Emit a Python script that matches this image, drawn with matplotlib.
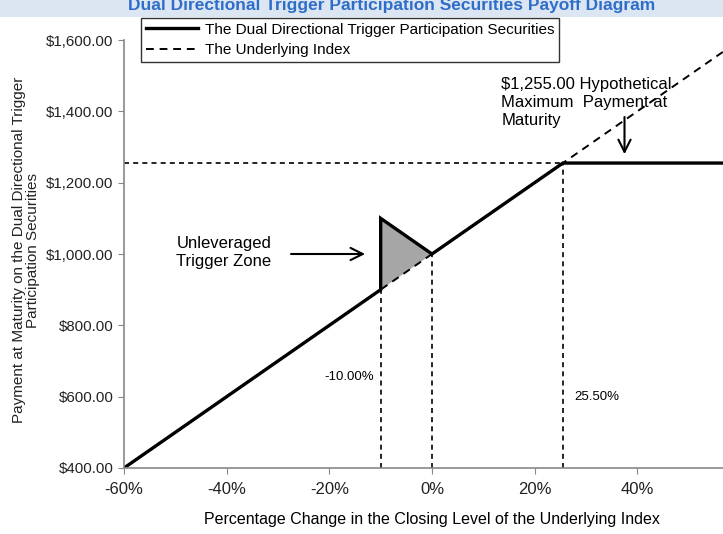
import matplotlib.pyplot as plt
from matplotlib.patches import Rectangle

plt.rcParams['font.family'] = ['Liberation Sans', 'DejaVu Sans']

# payoff of the securities (percent change -> payment)
pay_x = [-60, -10, -10, 0, 25.5, 60]
pay_y = [400, 900, 1100, 1000, 1255, 1255]

# underlying index
idx_x = [-60, 60]
idx_y = [400, 1600]

# trigger zone triangle
zone_x = [-10, -10, 0]
zone_y = [900, 1100, 1000]

cap_level = 1255
cap_pct = 25.5
trigger_pct = -10

x_ticks = [-60, -40, -20, 0, 20, 40, 60]
x_labels = ['-60%', '-40%', '-20%', '0%', '20%', '40%', '60%']
y_ticks = [400, 600, 800, 1000, 1200, 1400, 1600]
y_labels = ['$400.00', '$600.00', '$800.00', '$1,000.00', '$1,200.00', '$1,400.00', '$1,600.00']

fig = plt.figure(figsize=(7.23, 5.34), dpi=100)
fig.patches.append(Rectangle((0, 1 - 17 / 534), 1, 17 / 534, transform=fig.transFigure,
                             facecolor='#dce6f2', edgecolor='none'))
fig.text(392 / 723, 1 - 10 / 534, 'Dual Directional Trigger Participation Securities Payoff Diagram',
         ha='center', va='baseline', fontsize=12.5, fontweight='bold', color='#2f6ec8')

ax = fig.add_axes([124 / 723, 66 / 534, 616 / 723, 428 / 534])

ax.fill(zone_x, zone_y, color='#a6a6a6', lw=0)
ax.plot(idx_x, idx_y, ls=(0, (4, 3)), color='black', lw=1.4, label='The Underlying Index')
ax.plot(pay_x, pay_y, color='black', lw=2.4, solid_joinstyle='miter',
        label='The Dual Directional Trigger Participation Securities')

ax.plot([-60, cap_pct], [cap_level, cap_level], ls=(0, (3, 2.5)), color='black', lw=1.2)
ax.plot([trigger_pct, trigger_pct], [400, 900], ls=(0, (3, 2.5)), color='black', lw=1.2)
ax.plot([0, 0], [400, 1000], ls=(0, (3, 2.5)), color='black', lw=1.2)
ax.plot([cap_pct, cap_pct], [400, cap_level], ls=(0, (3, 2.5)), color='black', lw=1.2)

ax.set_xlim(-60, 60)
ax.set_ylim(400, 1600)
ax.set_xticks(x_ticks)
ax.set_xticklabels(x_labels, fontsize=12)
ax.set_yticks(y_ticks)
ax.set_yticklabels(y_labels, fontsize=10.8)
for s in ['top', 'right']:
    ax.spines[s].set_visible(False)
for s in ['left', 'bottom']:
    ax.spines[s].set_color('#878787')
    ax.spines[s].set_linewidth(1.2)
ax.tick_params(axis='both', direction='out', length=4, color='#878787', colors='#222222')
ax.tick_params(axis='x', pad=6)

ax.annotate('', xy=(-12.5, 1000), xytext=(-28, 1000),
            arrowprops=dict(arrowstyle='->', color='black', lw=1.5, mutation_scale=22))
ax.text(-49.8, 1005, 'Unleveraged\nTrigger Zone', fontsize=12, ha='left', va='center',
        linespacing=1.25)

ax.annotate('', xy=(37.5, 1272), xytext=(37.5, 1392),
            arrowprops=dict(arrowstyle='->', color='black', lw=1.5, mutation_scale=22))
ax.text(13.5, 1495, '$1,255.00 Hypothetical\nMaximum  Payment at\nMaturity', fontsize=12,
        ha='left', va='top', linespacing=1.25)

ax.text(-11.3, 655, '-10.00%', fontsize=9.5, ha='right', va='center')
ax.text(27.7, 600, '25.50%', fontsize=9.5, ha='left', va='center')

ax.set_xlabel('Percentage Change in the Closing Level of the Underlying Index', fontsize=11.5,
              labelpad=11)
fig.text(26 / 723, 1 - 250 / 534,
         'Payment at Maturity on the Dual Directional Trigger\nParticipation Securities',
         rotation=90, ha='center', va='center', fontsize=11, color='#222222',
         multialignment='center', linespacing=1.0)

h, l = ax.get_legend_handles_labels()
leg = fig.legend([h[1], h[0]], [l[1], l[0]], loc='upper left',
                 bbox_to_anchor=(141 / 723, 1 - 18 / 534), fontsize=11, frameon=True,
                 fancybox=False, edgecolor='black', handlelength=3.4, borderpad=0.3,
                 labelspacing=0.45, handletextpad=0.5, borderaxespad=0)
leg.get_frame().set_linewidth(1.0)

fig.savefig('out.png', dpi=100)
